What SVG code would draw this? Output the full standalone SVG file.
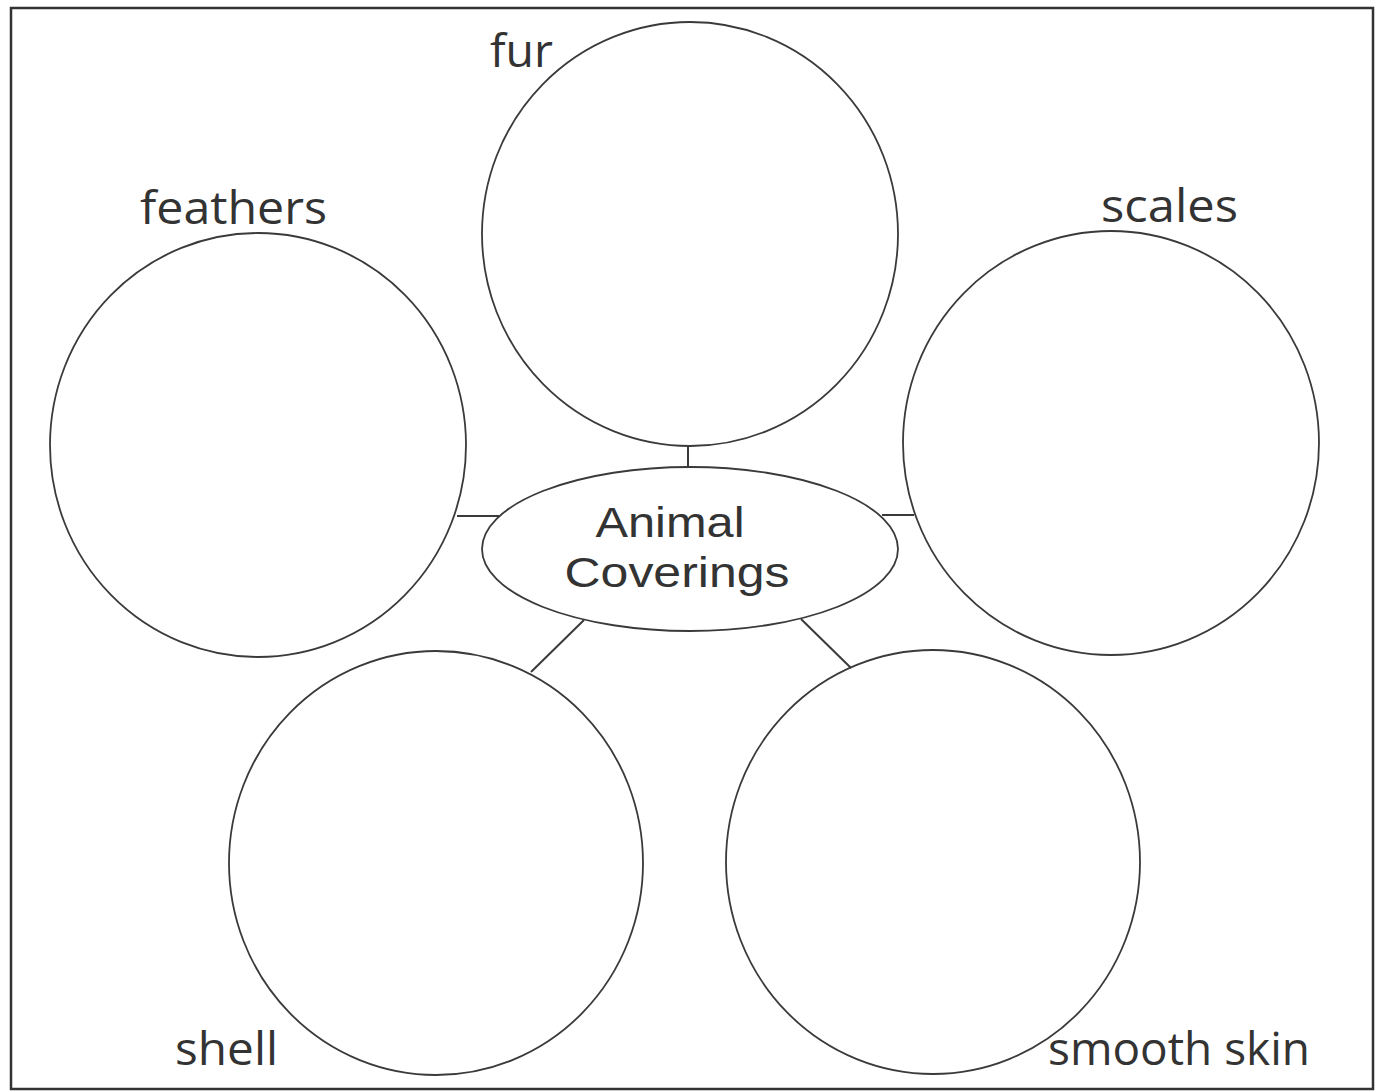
<svg xmlns="http://www.w3.org/2000/svg" width="1379" height="1091" viewBox="0 0 1379 1091">
<style>
.c{fill:none;stroke:#3a3a3a;stroke-width:1.8}
.l{stroke:#3a3a3a;stroke-width:2}
text{font-family:"Open Sans","Liberation Sans",sans-serif;fill:#333;font-size:46px}
.m{font-family:"Liberation Sans",sans-serif;font-size:42px}
</style>
<rect width="1379" height="1091" fill="#fff"/>
<rect x="11" y="8" width="1362" height="1081" fill="none" stroke="#333" stroke-width="2.5"/>
<g id="connectors">
<line class="l" x1="688" y1="446" x2="688" y2="467"/>
<line class="l" x1="457" y1="516" x2="499" y2="516"/>
<line class="l" x1="882" y1="515" x2="914" y2="515"/>
<line class="l" x1="584" y1="620" x2="531" y2="672"/>
<line class="l" x1="801" y1="619" x2="851" y2="668"/>
</g>
<g id="center"><ellipse class="c" cx="690" cy="549" rx="208" ry="82"/>
<text class="m" x="670" y="537" text-anchor="middle" textLength="149" lengthAdjust="spacingAndGlyphs">Animal</text>
<text class="m" x="677" y="587" text-anchor="middle" textLength="225" lengthAdjust="spacingAndGlyphs">Coverings</text></g>
<g id="fur"><ellipse class="c" cx="690" cy="234" rx="208" ry="212"/><text x="490" y="67" textLength="63" lengthAdjust="spacingAndGlyphs">fur</text></g>
<g id="feathers"><ellipse class="c" cx="258" cy="445" rx="208" ry="212"/><text x="140" y="224" textLength="187" lengthAdjust="spacingAndGlyphs">feathers</text></g>
<g id="scales"><ellipse class="c" cx="1111" cy="443" rx="208" ry="212"/><text x="1101" y="222" textLength="137" lengthAdjust="spacingAndGlyphs">scales</text></g>
<g id="shell"><ellipse class="c" cx="436" cy="863" rx="207" ry="212"/><text x="175" y="1065" textLength="103" lengthAdjust="spacingAndGlyphs">shell</text></g>
<g id="smooth-skin"><ellipse class="c" cx="933" cy="862" rx="207" ry="212"/><text x="1048" y="1065" textLength="262" lengthAdjust="spacingAndGlyphs">smooth skin</text></g>
</svg>
